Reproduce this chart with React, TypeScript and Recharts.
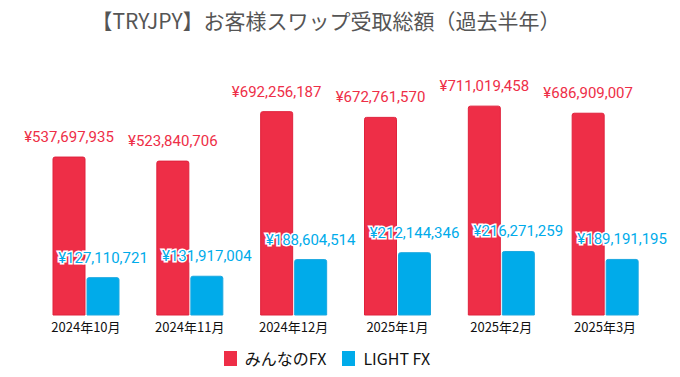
import { BarChart, Bar, XAxis, YAxis, LabelList } from 'recharts';

const months = ['2024年10月', '2024年11月', '2024年12月', '2025年1月', '2025年2月', '2025年3月'];
const minnaFx = [537697935, 523840706, 692256187, 672761570, 711019458, 686909007];
const lightFx = [127110721, 131917004, 188604514, 212144346, 216271259, 189191195];

const RED = '#ee2e47';
const BLUE = '#00abea';

const data = months.map((m, i) => ({ month: m, minna: minnaFx[i], light: lightFx[i] }));

const yen = (v: number) => '¥' + v.toLocaleString('en-US');

const labelStyle = {
    fontFamily: 'Roboto, sans-serif',
    fontSize: 15,
    stroke: '#fff',
    strokeWidth: 3,
    paintOrder: 'stroke' as const,
};

export default function App() {
    return (
        <div style={{ position: 'absolute', left: 0, top: 0, width: 680, height: 377, background: '#fff' }}>
            <div
                style={{
                    position: 'absolute',
                    left: 0,
                    top: 6,
                    width: 652,
                    textAlign: 'center',
                    fontFamily: '"Noto Sans CJK JP", sans-serif',
                    fontSize: 21,
                    color: '#555',
                    lineHeight: '28px',
                }}
            >
                【TRYJPY】お客様スワップ受取総額（過去半年）
            </div>
            <BarChart
                width={680}
                height={377}
                data={data}
                margin={{ top: 80, right: 23, left: 34, bottom: 32 }}
                barSize={32}
                barGap={2}
            >
                <XAxis
                    dataKey="month"
                    axisLine={false}
                    tickLine={false}
                    interval={0}
                    tick={{ fill: '#111', fontSize: 13, fontFamily: '"Noto Sans CJK JP", sans-serif' }}
                />
                <YAxis hide domain={[0, 800000000]} />
                <Bar dataKey="minna" fill={RED} stroke="#e0223c" radius={[2, 2, 0, 0]} isAnimationActive={false}>
                    <LabelList dataKey="minna" position="top" offset={15} formatter={(v: any) => yen(Number(v))} style={{ ...labelStyle, fill: RED }} />
                </Bar>
                <Bar dataKey="light" fill={BLUE} stroke="#1aa8e0" radius={[2, 2, 0, 0]} isAnimationActive={false}>
                    <LabelList dataKey="light" position="top" offset={15} formatter={(v: any) => yen(Number(v))} style={{ ...labelStyle, fill: BLUE }} />
                </Bar>
            </BarChart>
            <div
                style={{
                    position: 'absolute',
                    left: -13,
                    top: 346,
                    width: 680,
                    display: 'flex',
                    justifyContent: 'center',
                    alignItems: 'center',
                    gap: 16,
                    fontFamily: '"Noto Sans CJK JP", sans-serif',
                    fontSize: 16,
                    color: '#111',
                }}
            >
                <span style={{ display: 'flex', alignItems: 'center', gap: 8 }}>
                    <span style={{ width: 13, height: 15, background: RED, display: 'inline-block' }} />
                    みんなのFX
                </span>
                <span style={{ display: 'flex', alignItems: 'center', gap: 8 }}>
                    <span style={{ width: 13, height: 15, background: BLUE, display: 'inline-block' }} />
                    LIGHT FX
                </span>
            </div>
        </div>
    );
}
